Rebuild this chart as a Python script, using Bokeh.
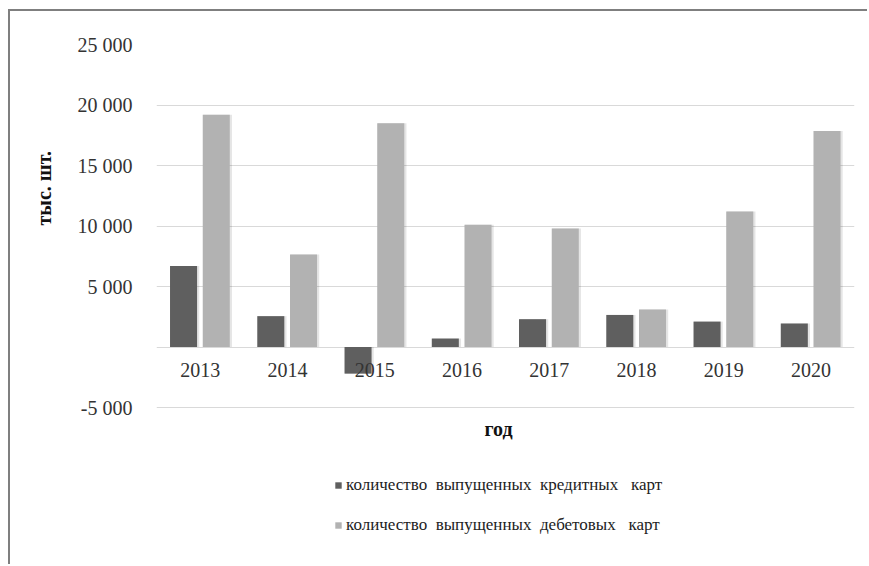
from bokeh.plotting import figure
from bokeh.models import (ColumnDataSource, FactorRange, Range1d, FixedTicker,
                          CustomJSTickFormatter, Legend, LegendItem, Label, Title)
from bokeh.core.properties import value
from bokeh.transform import dodge
from bokeh.embed import file_html
from bokeh.resources import INLINE

years = ["2013", "2014", "2015", "2016", "2017", "2018", "2019", "2020"]
credit = [6700, 2550, -2200, 700, 2300, 2650, 2100, 1950]
debit = [19200, 7650, 18500, 10100, 9800, 3100, 11200, 17850]
y_ticks = [-5000, 0, 5000, 10000, 15000, 20000, 25000]
credit_label = "количество  выпущенных  кредитных   карт"
debit_label = "количество  выпущенных  дебетовых   карт"
y_title = "тыс. шт."
x_title = "год"

FONT = "Liberation Serif"
DARK = "#5f5f5f"
LIGHT = "#b2b2b2"

src = ColumnDataSource(dict(year=years, credit=credit, debit=debit))

# frame extends down to the bottom of the canvas so that the legend and the
# axis title below the plot are drawn inside it (value scale: -5000..25000
# between the lowest and highest grid lines)
p = figure(x_range=FactorRange(*years, range_padding=0),
           y_range=Range1d(-18140, 25000),
           width=859, height=555,
           output_backend="svg", toolbar_location=None,
           min_border_left=145, min_border_right=15,
           min_border_top=33, min_border_bottom=0)
p.styles = {"margin-left": "8px", "margin-top": "9px",
            "border-left": "2px solid #7f7f7f", "border-top": "2px solid #7f7f7f"}
p.outline_line_color = None
p.background_fill_color = "white"
p.border_fill_color = "white"

# soft shadows behind the bars
p.vbar(x=dodge("year", -0.175, range=p.x_range), top="credit", width=0.33,
       source=src, fill_color="black", fill_alpha=0.10, line_color=None)
p.vbar(x=dodge("year", 0.2, range=p.x_range), top="debit", width=0.33,
       source=src, fill_color="black", fill_alpha=0.10, line_color=None)

r1 = p.vbar(x=dodge("year", -0.19, range=p.x_range), top="credit", width=0.31,
            source=src, fill_color=DARK, line_color=None)
r2 = p.vbar(x=dodge("year", 0.185, range=p.x_range), top="debit", width=0.31,
            source=src, fill_color=LIGHT, line_color=None)

# category labels sitting on the zero line
p.text(x="year", y=0, text="year", source=src, text_align="center",
       text_baseline="top", y_offset=16, text_font=value(FONT),
       text_font_size=value("20px"), text_color="#333333")

p.xgrid.grid_line_color = None
p.ygrid.grid_line_color = "#d9d9d9"
p.ygrid.grid_line_width = 1

ya = p.yaxis[0]
ya.ticker = FixedTicker(ticks=y_ticks)
ya.formatter = CustomJSTickFormatter(code="""
if (tick == 0) return "";
const s = Math.abs(tick).toFixed(0).replace(/\\B(?=(\\d{3})+(?!\\d))/g, " ");
return (tick < 0 ? "-" : "") + s;
""")
ya.axis_line_color = None
ya.major_tick_line_color = None
ya.minor_tick_line_color = None
ya.major_label_standoff = 18
ya.major_label_text_font = FONT
ya.major_label_text_font_size = "20px"
ya.major_label_text_color = "#333333"

p.add_layout(Title(text=y_title, align="left", offset=341, text_font=FONT,
                   text_font_size="20px", text_font_style="bold",
                   text_color="#111111", standoff=40), "left")

p.xaxis.visible = False

p.add_layout(Label(x=3.92, y=-6750, text=x_title, text_align="center",
                   text_baseline="middle", text_font=FONT,
                   text_font_size="20px", text_font_style="bold",
                   text_color="#111111"))

legend = Legend(items=[LegendItem(label=credit_label, renderers=[r1]),
                       LegendItem(label=debit_label, renderers=[r2])],
                location=(178, 31), orientation="vertical",
                border_line_color=None, background_fill_alpha=0,
                glyph_width=8, glyph_height=8, label_standoff=4,
                label_text_font=FONT, label_text_font_size="17px",
                label_text_color="#222222", label_height=20, spacing=20,
                padding=0, margin=0)
p.add_layout(legend)

open("out.html", "w").write(file_html(p, INLINE))
